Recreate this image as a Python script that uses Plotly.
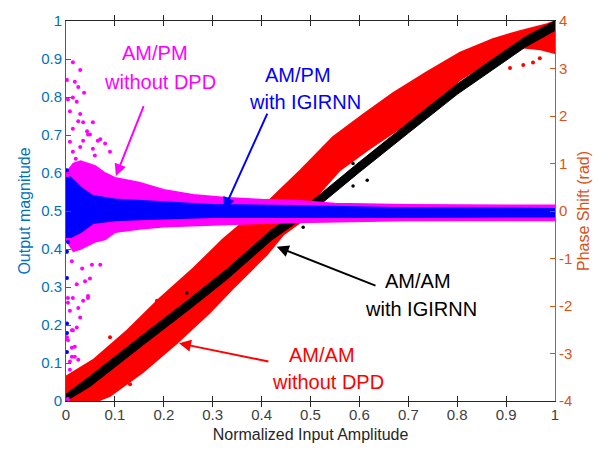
import plotly.graph_objects as go

# ---- AM/AM (left axis, output magnitude) ----
# Envelope of the AM/AM cloud without DPD
red_up_x = [0, 0.055, 0.125, 0.192, 0.26, 0.321, 0.417, 0.479, 0.546, 0.607, 0.669, 0.738, 0.806, 0.873, 0.928, 0.984, 1.0]
red_up_y = [0.065, 0.108, 0.186, 0.271, 0.349, 0.426, 0.530, 0.607, 0.695, 0.754, 0.811, 0.866, 0.917, 0.953, 0.974, 0.992, 1.0]
red_lo_x = [0, 0.065, 0.09, 0.157, 0.227, 0.294, 0.342, 0.411, 0.444, 0.479, 0.50, 0.56, 0.622, 0.669, 0.738, 0.806, 0.873, 0.93, 0.97, 1.0]
red_lo_y = [0, 0, 0.013, 0.075, 0.152, 0.232, 0.297, 0.385, 0.437, 0.47, 0.52, 0.607, 0.665, 0.705, 0.765, 0.845, 0.9, 0.93, 0.925, 0.915]
red_pts_x = [0.908, 0.955, 0.969, 0.935, 0.84, 0.99, 0.131, 0.186, 0.09]
red_pts_y = [0.876, 0.891, 0.902, 0.884, 0.85, 0.928, 0.044, 0.264, 0.168]

# Envelope of the AM/AM cloud with IGIRNN
blk_x = [0, 0.05, 0.157, 0.25, 0.329, 0.42, 0.5, 0.6, 0.7, 0.8, 0.873, 0.94, 1.0]
blk_hi = [0.018, 0.066, 0.174, 0.266, 0.347, 0.45, 0.523, 0.629, 0.732, 0.834, 0.9, 0.959, 1.0]
blk_lo = [0.0, 0.039, 0.147, 0.239, 0.32, 0.423, 0.496, 0.602, 0.705, 0.807, 0.873, 0.932, 0.975]
blk_pts_x = [0.587, 0.616, 0.485, 0.587, 0.247]
blk_pts_y = [0.566, 0.581, 0.457, 0.625, 0.284]

# ---- AM/PM (right axis, phase shift in rad) ----
mag_x = [0.0, 0.015, 0.03, 0.06, 0.08, 0.1, 0.15, 0.2, 0.26, 0.33, 0.4, 0.47, 0.55, 0.7, 1.0]
mag_hi = [0.8, 1.0, 1.05, 0.95, 0.8, 0.7, 0.6, 0.45, 0.34, 0.28, 0.24, 0.22, 0.16, 0.13, 0.12]
mag_lo = [-0.6, -0.85, -0.8, -0.65, -0.6, -0.45, -0.38, -0.33, -0.3, -0.28, -0.26, -0.24, -0.22, -0.2, -0.2]
mag_pts_x = [0.014, 0.002, 0.018, 0.025, 0.014, 0.022, 0.008, 0.029, 0.025, 0.035, 0.014, 0.043, 0.07, 0.049,
             0.035, 0.008, 0.029, 0.055, 0.014, 0.029, 0.037, 0.004, 0.055, 0.045, 0.065, 0.08, 0.09, 0.02, 0.059,
             0.004, 0.008, 0.012, 0.004, 0.018, 0.012, 0.022, 0.029, 0.035, 0.045, 0.022, 0.039, 0.004, 0.008,
             0.033, 0.049, 0.012, 0.053, 0.07, 0.045, 0.014, 0.025, 0.004, 0.014, 0.002, 0.012, 0.018, 0.025, 0.008]
mag_pts_y = [3.13, 2.76, 2.72, 2.61, 2.39, 2.30, 2.10, 2.04, 1.89, 1.87, 1.73, 1.68, 1.51, 1.61,
             1.48, 1.46, 1.35, 1.31, 1.25, 2.97, 2.49, 2.35, 1.87, 1.61, 1.48, 1.42, 1.25, 1.10, 1.17,
             -1.83, -2.10, -2.51, -2.72, -2.86, -3.07, -2.45, -2.24, -1.89, -1.83, -1.54, -1.48, -3.96, -3.34,
             -1.21, -1.42, -1.06, -1.13, -1.13, -1.79, -1.83, -2.04, -1.93, -2.51, -2.66, -2.88, -3.07, -3.13, -3.17]

blu_x = [0.0, 0.01, 0.03, 0.055, 0.1, 0.15, 0.3, 0.465, 0.669, 1.0]
blu_hi = [0.7, 0.7, 0.5, 0.32, 0.25, 0.22, 0.13, 0.11, 0.07, 0.05]
blu_lo = [-0.55, -0.55, -0.45, -0.26, -0.2, -0.18, -0.13, -0.13, -0.13, -0.12]
blu_pts_x = [0.002, 0.002, 0.002, 0.002, 0.004, 0.002, 0.008, 0.004, 0.002]
blu_pts_y = [-1.41, -2.37, -2.97, -0.86, -0.65, 0.86, 0.69, 0.45, -2.57]

x_ticks = [0, 0.1, 0.2, 0.3, 0.4, 0.5, 0.6, 0.7, 0.8, 0.9, 1]
y_ticks = [0, 0.1, 0.2, 0.3, 0.4, 0.5, 0.6, 0.7, 0.8, 0.9, 1]
y2_ticks = [-4, -3, -2, -1, 0, 1, 2, 3, 4]

BLUE_AX = "#0072BD"
ORANGE_AX = "#D95319"
FONT = "Liberation Sans, Arial, sans-serif"


def band(xu, yu, xl, yl):
    return list(xu) + list(reversed(xl)), list(yu) + list(reversed(yl))


fig = go.Figure()

bx, by = band(red_up_x, red_up_y, red_lo_x, red_lo_y)
fig.add_trace(go.Scatter(x=bx, y=by, fill="toself", fillcolor="#FF0000", mode="lines",
                         line=dict(color="#FF0000", width=1.5), yaxis="y", hoverinfo="skip"))
fig.add_trace(go.Scatter(x=red_pts_x, y=red_pts_y, mode="markers",
                         marker=dict(color="#FF0000", size=4), yaxis="y"))

bx, by = band(blk_x, blk_hi, blk_x, blk_lo)
fig.add_trace(go.Scatter(x=bx, y=by, fill="toself", fillcolor="#000000", mode="lines",
                         line=dict(color="#000000", width=1), yaxis="y", hoverinfo="skip"))
fig.add_trace(go.Scatter(x=blk_pts_x, y=blk_pts_y, mode="markers",
                         marker=dict(color="#000000", size=3.5), yaxis="y"))

bx, by = band(mag_x, mag_hi, mag_x, mag_lo)
fig.add_trace(go.Scatter(x=bx, y=by, fill="toself", fillcolor="#FF00FF", mode="lines",
                         line=dict(color="#FF00FF", width=1.5), yaxis="y2", hoverinfo="skip"))
fig.add_trace(go.Scatter(x=mag_pts_x, y=mag_pts_y, mode="markers",
                         marker=dict(color="#FF00FF", size=4), yaxis="y2"))

bx, by = band(blu_x, blu_hi, blu_x, blu_lo)
fig.add_trace(go.Scatter(x=bx, y=by, fill="toself", fillcolor="#0000FF", mode="lines",
                         line=dict(color="#0000FF", width=1.5), yaxis="y2", hoverinfo="skip"))
fig.add_trace(go.Scatter(x=blu_pts_x, y=blu_pts_y, mode="markers",
                         marker=dict(color="#0000FF", size=4), yaxis="y2"))

# Labels and arrows (positions in left-axis data units)
labels = [
    ("AM/PM", 0.182, 0.915, "#FF00FF", None),
    ("without DPD", 0.192, 0.840, "#FF00FF", None),
    ("AM/PM", 0.474, 0.858, "#0000FF", None),
    ("with IGIRNN", 0.489, 0.786, "#0000FF", "white"),
    ("AM/AM", 0.720, 0.315, "#000000", None),
    ("with IGIRNN", 0.726, 0.243, "#000000", None),
    ("AM/AM", 0.524, 0.121, "#FF0000", None),
    ("without DPD", 0.536, 0.049, "#FF0000", None),
]
for text, x, y, col, bg in labels:
    fig.add_annotation(x=x, y=y, xref="x", yref="y", text=text, showarrow=False,
                       font=dict(family=FONT, size=20, color=col),
                       bgcolor=bg if bg else "rgba(0,0,0,0)", borderpad=0,
                       xanchor="center", yanchor="middle")

arrows = [
    (0.102, 0.592, 0.160, 0.780, "#FF00FF"),
    (0.323, 0.504, 0.413, 0.760, "#0000FF"),
    (0.431, 0.406, 0.636, 0.302, "#000000"),
    (0.231, 0.152, 0.417, 0.103, "#FF0000"),
]
for hx, hy, tx, ty, col in arrows:
    fig.add_annotation(x=hx, y=hy, ax=tx, ay=ty, xref="x", yref="y", axref="x", ayref="y",
                       text="", showarrow=True, arrowhead=2, arrowsize=1.2, arrowwidth=2,
                       arrowcolor=col)

fig.update_layout(
    width=608, height=452,
    margin=dict(l=66, r=53, t=15, b=50),
    paper_bgcolor="white", plot_bgcolor="white",
    showlegend=False,
    font=dict(family=FONT, size=15, color="#262626"),
    xaxis=dict(range=[0, 1], tickvals=x_ticks, ticktext=[f"{v:g}" for v in x_ticks],
               ticks="inside", ticklen=5, tickcolor="#262626", showline=True, linecolor="#262626",
               linewidth=1, mirror="allticks", showgrid=False, zeroline=False,
               tickfont=dict(size=15, color="#404040"),
               title=dict(text="Normalized Input Amplitude", font=dict(size=16, color="#262626"),
                          standoff=6)),
    yaxis=dict(range=[0, 1], tickvals=y_ticks, ticktext=[f"{v:g}" for v in y_ticks],
               ticks="inside", ticklen=5, tickcolor=BLUE_AX, showline=True, linecolor=BLUE_AX,
               linewidth=1, showgrid=False, zeroline=False,
               tickfont=dict(size=15, color=BLUE_AX),
               title=dict(text="Output magnitude", font=dict(size=16, color=BLUE_AX), standoff=6)),
    yaxis2=dict(range=[-4, 4], tickvals=y2_ticks, ticktext=[str(v) for v in y2_ticks],
                overlaying="y", side="right", anchor="x",
                ticks="inside", ticklen=5, tickcolor=ORANGE_AX, showline=True, linecolor=ORANGE_AX,
                linewidth=1, showgrid=False, zeroline=False,
                tickfont=dict(size=15, color=ORANGE_AX),
                title=dict(text="Phase Shift (rad)", font=dict(size=16, color=ORANGE_AX), standoff=6)),
)

fig.write_html("out.html")
